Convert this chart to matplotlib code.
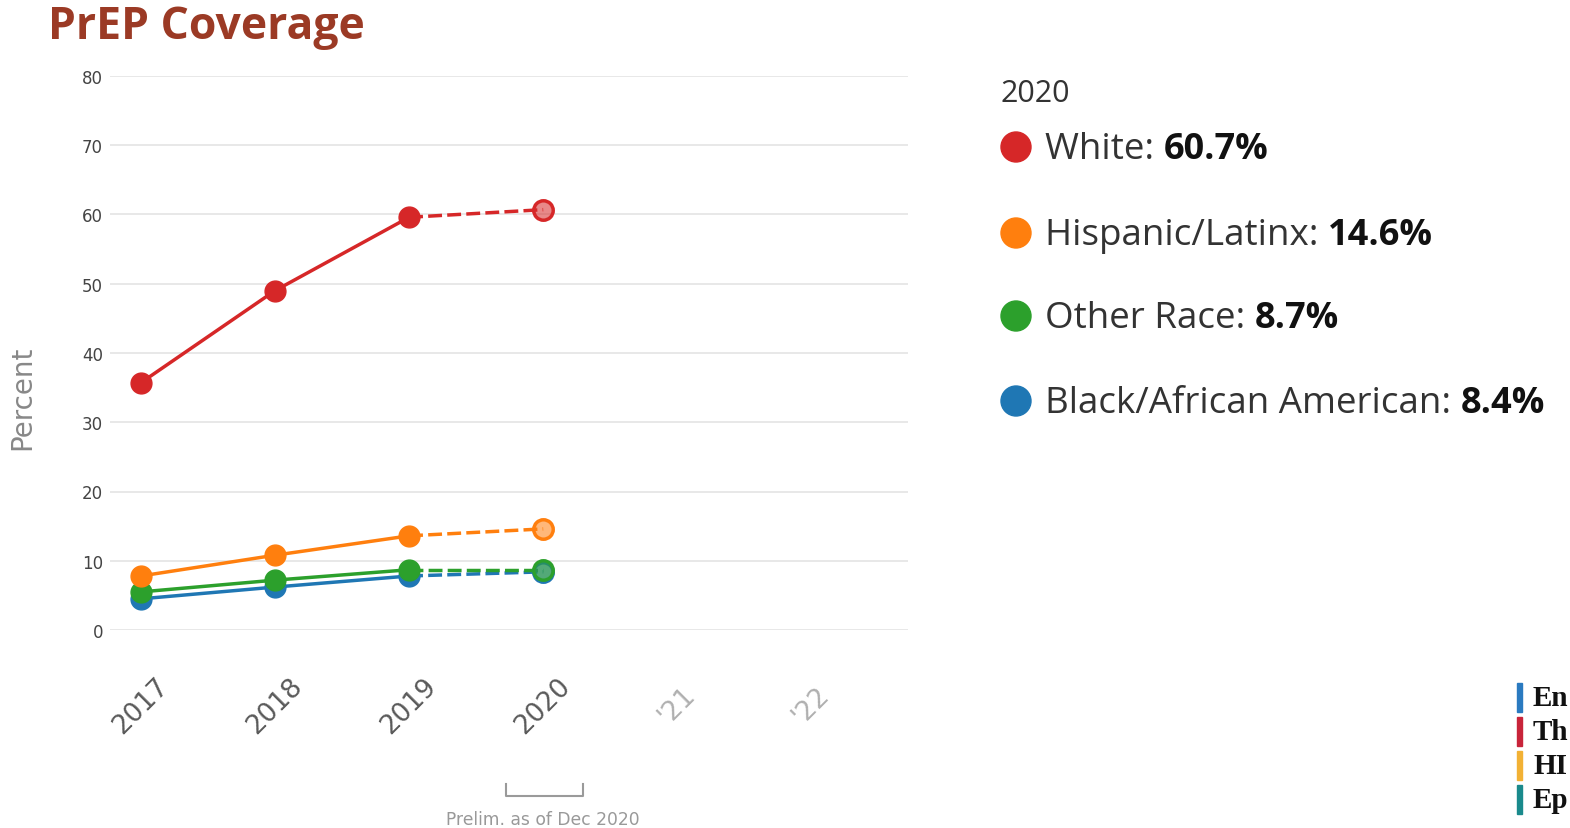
import matplotlib
matplotlib.use("Agg")
import matplotlib.pyplot as plt
import matplotlib.transforms as mtransforms
from matplotlib.colors import to_rgba

# ---------------- data ----------------
years = [2017, 2018, 2019, 2020]
tick_positions = [2017, 2018, 2019, 2020, 2021, 2022]
tick_labels = ["2017", "2018", "2019", "2020", "'21", "'22"]

groups = ["Black/African American", "Other Race", "Hispanic/Latinx", "White"]
black = [4.5, 6.2, 7.8, 8.4]
other = [5.5, 7.2, 8.7, 8.7]
hispanic = [7.8, 10.8, 13.6, 14.6]
white = [35.7, 49.0, 59.6, 60.7]
series = [black, other, hispanic, white]
colors = ["#1F77B4", "#2CA02C", "#FF7F0E", "#D62728"]

legend_order = ["White", "Hispanic/Latinx", "Other Race", "Black/African American"]
legend_values = ["60.7%", "14.6%", "8.7%", "8.4%"]
legend_colors = ["#D62728", "#FF7F0E", "#2CA02C", "#1F77B4"]

y_ticks = [0, 10, 20, 30, 40, 50, 60, 70, 80]

# logo fragment, as visible (cut by the slide edge)
logo_words = ["En", "Th", "HI", "Ep"]
logo_colors = ["#2A7AC0", "#C8243A", "#F2B134", "#1A8A8C"]

# ---------------- figure ----------------
W, H = 1570, 829
fig = plt.figure(figsize=(W / 100, H / 100), dpi=100)
fig.patch.set_facecolor("white")

ax = fig.add_axes([110 / W, 1 - 631 / H, (908 - 110) / W, (631 - 77) / H])
ax.set_xlim(2016.77, 2022.72)
ax.set_ylim(0, 80)
for s in ax.spines.values():
    s.set_visible(False)
ax.set_yticks(y_ticks)
ax.set_yticklabels([str(v) for v in y_ticks], fontsize=12, color="#444444",
                   family="DejaVu Sans")
ax.tick_params(axis="y", length=0, pad=5)
ax.grid(axis="y", color="#e4e4e4", lw=1.2)
ax.set_axisbelow(True)

ax.set_xticks(tick_positions)
ax.set_xticklabels(tick_labels, rotation=45, ha="center", va="center",
                   fontsize=19, family="DejaVu Sans")
ax.tick_params(axis="x", length=0, pad=54)
for lbl, txt in zip(ax.get_xticklabels(), tick_labels):
    lbl.set_color("#b0b0b0" if txt.startswith("'") else "#5a5a5a")

fig.text(22 / W, 1 - 398 / H, "Percent", rotation=90, fontsize=20,
         color="#888888", ha="center", va="center", family="DejaVu Sans")

for vals, c in zip(series, colors):
    ax.plot(years[:3], vals[:3], color=c, lw=2.5, marker="o", ms=15,
            mec=c, mfc=c, zorder=3, clip_on=False)
    ax.plot(years[2:], vals[2:], color=c, lw=2.5, ls=(0, (4, 1.5)), zorder=3,
            clip_on=False)
    ax.plot([years[3]], [vals[3]], marker="o", ms=14, mec=c, mew=2.5,
            mfc=to_rgba(c, 0.55), zorder=4, clip_on=False)

# preliminary bracket under 2020
tr = mtransforms.blended_transform_factory(ax.transData, fig.transFigure)
bx0, bx1 = 2020 - 0.28, 2020 + 0.3
ax.plot([bx0, bx0, bx1, bx1], [1 - 785 / H, 1 - 797 / H, 1 - 797 / H, 1 - 785 / H],
        color="#9a9a9a", lw=1.5, transform=tr, clip_on=False)
ax.text(2020, 1 - 820 / H, "Prelim. as of Dec 2020", transform=tr, ha="center",
        va="center", fontsize=12.3, color="#999999", family="DejaVu Sans")

# ---------------- title ----------------
fig.text(48 / W, 1 - 27 / H, "PrEP Coverage", fontsize=32, fontweight="bold",
         color="#9B3A25", family="Open Sans", ha="left", va="center")

# ---------------- legend panel ----------------
fig.text(1000 / W, 1 - 94 / H, "2020", fontsize=22, color="#333333",
         family="Open Sans", ha="left", va="center")
ys = [148, 234, 317, 402]
for name, val, c, yy in zip(legend_order, legend_values, legend_colors, ys):
    fig.add_artist(matplotlib.patches.Ellipse((1016 / W, 1 - yy / H), 30 / W, 30 / H,
                                              transform=fig.transFigure, color=c))
    t = fig.text(1045 / W, 1 - (yy + 2) / H, name + ": ", fontsize=26.5, color="#333333",
                 family="Open Sans", ha="left", va="center")
    fig.canvas.draw()
    bb = t.get_window_extent()
    fig.text(bb.x1 / W, 1 - (yy + 2) / H, val, fontsize=26, color="#111111",
             fontweight="bold", family="Open Sans", ha="left", va="center")

# ---------------- logo fragment (bottom right) ----------------
logo_y = [699, 733, 767, 801]
for w, c, yy in zip(logo_words, logo_colors, logo_y):
    fig.add_artist(matplotlib.patches.Rectangle((1517 / W, 1 - (yy + 14) / H), 5 / W, 29 / H,
                                                transform=fig.transFigure, color=c))
    fig.text(1533 / W, 1 - yy / H, w, fontsize=21, fontweight="bold",
             family="Liberation Serif", color="#111111", ha="left", va="center")

fig.savefig("out.png", dpi=100, facecolor="white")
